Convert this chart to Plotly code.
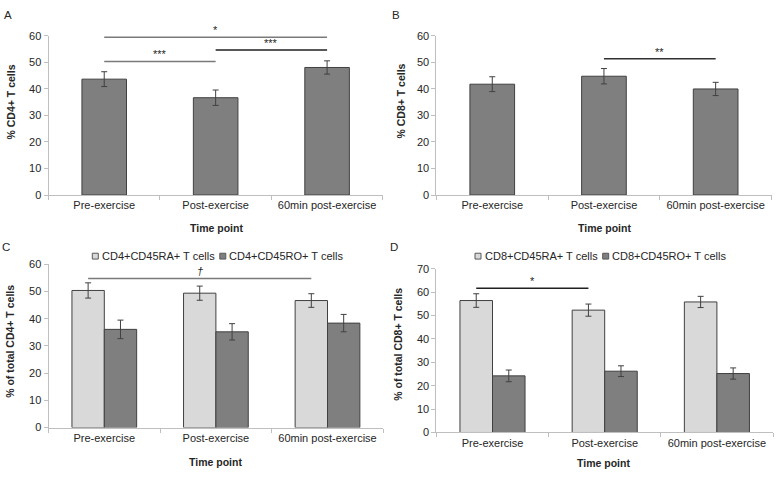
import plotly.graph_objects as go

# ---------------- data ----------------
categories = ["Pre-exercise", "Post-exercise", "60min post-exercise"]

cd4_pct = [43.7, 36.7, 48.1]
cd4_err = [2.8, 2.9, 2.5]

cd8_pct = [41.8, 44.8, 40.0]
cd8_err = [2.8, 2.9, 2.5]

cd4_ra = [50.4, 49.4, 46.7]
cd4_ra_err = [2.8, 2.6, 2.5]
cd4_ro = [36.1, 35.2, 38.4]
cd4_ro_err = [3.4, 3.0, 3.2]

cd8_ra = [56.4, 52.3, 55.8]
cd8_ra_err = [2.9, 2.6, 2.4]
cd8_ro = [24.2, 26.2, 25.2]
cd8_ro_err = [2.5, 2.3, 2.4]

# ---------------- styles ----------------
W, H = 777, 477
FONT = "Liberation Sans, Arial, sans-serif"
DARK = "#7f7f7f"
LIGHT = "#d9d9d9"
EDGE = "#404040"
AXC = "#bfbfbf"
TXT = "#262626"
GW = 0.29  # grouped bar width


def px_x(a, b):
    return [a / W, b / W]


def px_y(top, bottom):
    return [1 - bottom / H, 1 - top / H]


fig = go.Figure()


def err(vals, color=EDGE):
    return dict(type="data", array=vals, visible=True, color=color, thickness=1, width=3)


# Panel A
fig.add_trace(go.Bar(x=categories, y=cd4_pct, error_y=err(cd4_err), width=0.4,
                     name="CD4+ T cells",
                     marker=dict(color=DARK, line=dict(color=EDGE, width=1)),
                     showlegend=False, xaxis="x", yaxis="y"))
# Panel B
fig.add_trace(go.Bar(x=categories, y=cd8_pct, error_y=err(cd8_err), width=0.4,
                     name="CD8+ T cells",
                     marker=dict(color=DARK, line=dict(color=EDGE, width=1)),
                     showlegend=False, xaxis="x2", yaxis="y2"))
# Panel C
fig.add_trace(go.Bar(x=categories, y=cd4_ra, error_y=err(cd4_ra_err), width=GW, offset=-GW,
                     name="CD4+CD45RA+ T cells", showlegend=False,
                     marker=dict(color=LIGHT, line=dict(color=EDGE, width=1)),
                     xaxis="x3", yaxis="y3"))
fig.add_trace(go.Bar(x=categories, y=cd4_ro, error_y=err(cd4_ro_err), width=GW, offset=0,
                     name="CD4+CD45RO+ T cells", showlegend=False,
                     marker=dict(color=DARK, line=dict(color=EDGE, width=1)),
                     xaxis="x3", yaxis="y3"))
# Panel D
fig.add_trace(go.Bar(x=categories, y=cd8_ra, error_y=err(cd8_ra_err), width=GW, offset=-GW,
                     name="CD8+CD45RA+ T cells", showlegend=False,
                     marker=dict(color=LIGHT, line=dict(color=EDGE, width=1)),
                     xaxis="x4", yaxis="y4"))
fig.add_trace(go.Bar(x=categories, y=cd8_ro, error_y=err(cd8_ro_err), width=GW, offset=0,
                     name="CD8+CD45RO+ T cells", showlegend=False,
                     marker=dict(color=DARK, line=dict(color=EDGE, width=1)),
                     xaxis="x4", yaxis="y4"))

tickfont = dict(family=FONT, size=11, color=TXT)


def xaxis(domain, anchor):
    return dict(domain=domain, anchor=anchor, type="category",
                range=[-0.5, 2.5], showline=True, linecolor=AXC, linewidth=1,
                ticks="outside", tickson="boundaries", ticklen=4, tickcolor=AXC,
                tickfont=tickfont, showgrid=False, zeroline=False,
                ticklabeloverflow="allow")


def yaxis(domain, anchor, rmax):
    return dict(domain=domain, anchor=anchor, range=[0, rmax], dtick=10,
                showline=True, linecolor=AXC, linewidth=1,
                ticks="outside", ticklen=4, tickcolor=AXC,
                tickfont=tickfont, showgrid=False, zeroline=False)


fig.update_layout(
    width=W, height=H,
    margin=dict(l=0, r=0, t=0, b=0),
    paper_bgcolor="white", plot_bgcolor="white",
    font=dict(family=FONT, size=11, color=TXT),
    barmode="overlay",
    showlegend=False,
    xaxis=xaxis(px_x(48.5, 382.8), "y"),
    yaxis=yaxis(px_y(30.7, 193.9), "x", 60),
    xaxis2=xaxis(px_x(436.4, 771.5), "y2"),
    yaxis2=yaxis(px_y(30.7, 193.9), "x2", 60),
    xaxis3=xaxis(px_x(48.5, 383.3), "y3"),
    yaxis3=yaxis(px_y(265, 432.5), "x3", 60),
    xaxis4=xaxis(px_x(436.4, 773.0), "y4"),
    yaxis4=yaxis(px_y(269.5, 437.5), "x4", 70),
)

# axis titles (placed as in the reference)
titlefont = dict(family=FONT, size=10.5, color=TXT)
axis_titles = [
    ("% CD4+ T cells", 11, 99, -90),
    ("% CD8+ T cells", 401, 98, -90),
    ("% of total CD4+ T cells", 10.5, 344, -90),
    ("% of total CD8+ T cells", 398.5, 347, -90),
    ("Time point", 216, 227.7, 0),
    ("Time point", 604.5, 228, 0),
    ("Time point", 215, 467.7, 0),
    ("Time point", 603.5, 468.7, 0),
]
for txt, xp, yp, ang in axis_titles:
    fig.add_annotation(xref="paper", yref="paper", x=xp / W, y=1 - yp / H,
                       text="<b>" + txt + "</b>", showarrow=False, textangle=ang,
                       xanchor="center", yanchor="middle", font=titlefont)

# legends for panels C and D: (label, colour, box left px, text left px)
legend_items = [
    ("CD4+CD45RA+ T cells", LIGHT, 92.3, 100),
    ("CD4+CD45RO+ T cells", DARK, 219.8, 226.7),
    ("CD8+CD45RA+ T cells", LIGHT, 475, 482.7),
    ("CD8+CD45RO+ T cells", DARK, 602.7, 610),
]
LEG_Y = 256.6
for lab, col, bx, tx in legend_items:
    fig.add_shape(type="rect", xref="paper", yref="paper",
                  x0=bx / W, x1=(bx + 6) / W, y0=1 - (LEG_Y + 3) / H, y1=1 - (LEG_Y - 3) / H,
                  fillcolor=col, line=dict(color="#595959", width=1))
    fig.add_annotation(xref="paper", yref="paper", x=tx / W, y=1 - LEG_Y / H, text=lab,
                       showarrow=False, xanchor="left", yanchor="middle",
                       font=dict(family=FONT, size=11, color=TXT))

# significance brackets: (xref, yref, x0, x1, y, label, color)
sig_bars = [
    ("x", "y", 0.0, 2.0, 59.5, "*", "#7a7a7a"),
    ("x", "y", 0.0, 1.0, 50.4, "***", "#7a7a7a"),
    ("x", "y", 1.0, 2.0, 54.7, "***", "#202020"),
    ("x2", "y2", 1.0, 2.0, 51.4, "**", "#303030"),
    ("x3", "y3", -GW / 2, 2 - GW / 2, 54.8, "<i>†</i>", "#7a7a7a"),
    ("x4", "y4", -GW / 2, 1 - GW / 2, 61.6, "*", "#202020"),
]
for xr, yr, x0, x1, yv, lab, col in sig_bars:
    fig.add_shape(type="line", xref=xr, yref=yr, x0=x0, x1=x1, y0=yv, y1=yv,
                  line=dict(color=col, width=1.5))
    fig.add_annotation(xref=xr, yref=yr, x=(x0 + x1) / 2, y=yv, text=lab, showarrow=False,
                       yanchor="bottom", yshift=-1, font=dict(family=FONT, size=11, color=TXT))

# panel letters
for lab, xp, yp in [("A", 8, 9), ("B", 396, 9), ("C", 6, 247), ("D", 394, 247)]:
    fig.add_annotation(xref="paper", yref="paper", x=xp / W, y=1 - yp / H, text=lab,
                       showarrow=False, xanchor="center", yanchor="middle",
                       font=dict(family=FONT, size=11.5, color=TXT))

fig.write_html("out.html", config={"displayModeBar": False},
               post_script="document.body.style.margin='0';document.body.style.overflow='hidden';")
